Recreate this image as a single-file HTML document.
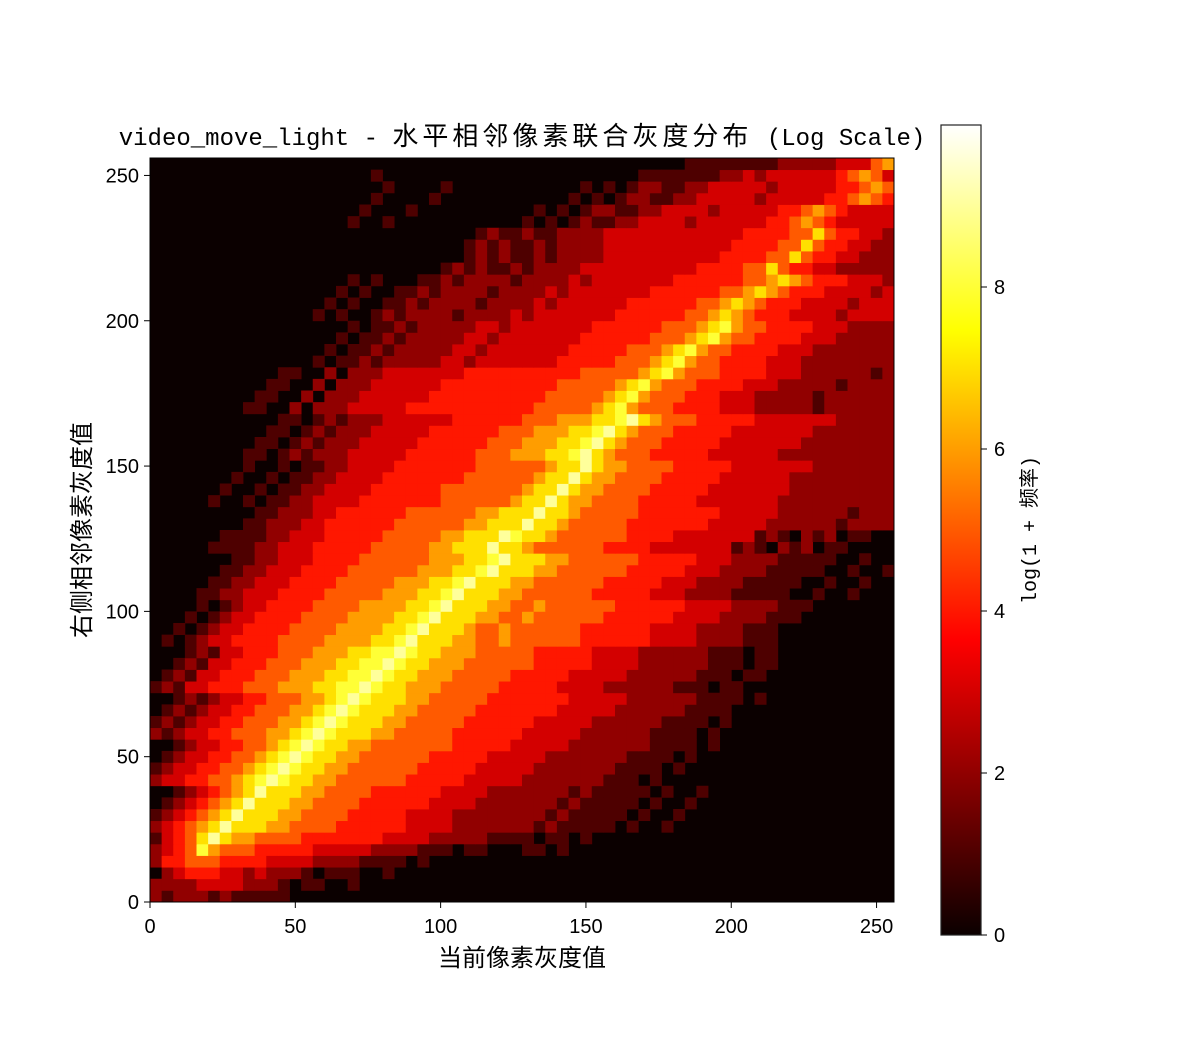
<!DOCTYPE html>
<html><head><meta charset="utf-8"><style>
html,body{margin:0;padding:0;background:#fff;}
svg{display:block;}
text{font-family:"Liberation Sans","Noto Sans CJK SC",sans-serif;fill:#000;}
.mono{font-family:"Liberation Mono","Noto Sans CJK SC",monospace;}
</style></head><body>
<svg id="chart" width="1200" height="1050" viewBox="0 0 1200 1050" xmlns="http://www.w3.org/2000/svg">
<defs>
<linearGradient id="hotgrad" x1="0" y1="1" x2="0" y2="0">
<stop offset="0" stop-color="#0b0000"/><stop offset="0.365" stop-color="#ff0000"/><stop offset="0.746" stop-color="#ffff00"/><stop offset="1" stop-color="#ffffff"/>
</linearGradient>
</defs>
<text x="522" y="145" text-anchor="middle" font-size="24" class="mono">video_move_light - <tspan font-size="26" letter-spacing="4">水平相邻像素联合灰度分布</tspan> (Log Scale)</text>
<g id="cells"></g>
<rect x="150" y="158" width="744" height="744" fill="none" stroke="#000" stroke-width="1"/>
<g id="xticks"></g>
<g id="yticks"></g>
<text x="522" y="966" text-anchor="middle" font-size="24">当前像素灰度值</text>
<text transform="translate(90,530) rotate(-90)" text-anchor="middle" font-size="24">右侧相邻像素灰度值</text>
<rect x="941" y="125" width="40" height="810" fill="url(#hotgrad)" stroke="#222" stroke-width="1.2"/>
<g id="cbticks"></g>
<text transform="translate(1036,530) rotate(-90)" text-anchor="middle" font-size="20" class="mono">log(1 + 频率)</text>
</svg>
<script>
// heatmap values: rows listed from bottom (y bin 0) to top (y bin 63); each char = log(1+count)
const rowsBottomUp = [
"2122212111110000",
"222233332221011001",
"0234443323222101110010",
"244555444433332222111101",
"234586555444443333322221110110001101",
"1345797665555444444433332222211110110100",
"2345679777665555444444333322222221211111010010",
"1234567977766555544444333322222222121111101001",
"01234567977766555544444433332222222121111101001",
"001234567977766555544444433332222222121111101001",
"23344556789877665555554444433333222222211101",
"12334455678987766555555444443333322222221111010",
"0123344556789877665555554444433333222222211110100",
"00123344556789877665555555444443333322222221111010",
"21233445556678987776655555444444333332222221111010",
"12123344555667898777665555544444433333222222111101",
"01212334455566789877766555554444444333332222221111",
"001212334455566789877766555554444444333332222221111010",
"121334445556667788987766655555444443333222222111011",
"0121334445556667788987766655555444443333322222211101100",
"001213344455566677889877666555555444443333222222111011",
"00012133444555666778898776665555544444333322222211101100",
"0101233444455556666778977766556555555444444333322221110",
"00101233444455556666778977765565555554444443333222211100",
"000101233444455556666778977766556555555444444333322221110",
"0000101233444455556666778977766556555555444444333322221110",
"0000112233344445555566677897776655555544444333222211111001001000",
"0000011223334444555556667789777665555554444433322221111100100100",
"0000001122333444455555566677897776655555544444333222211111001001",
"0000000112233344445555556667789777665555554444433322221111100100",
"0000011112233344444555556677797765555554444333333312102120110000",
"0000001111223334444455555667779877655555544443333333121021201100",
"0000000011222334444445555556677797765555544444443333322222212222",
"0000000001122233444444555555667779776555554444444333332222221222",
"0000010010112233334444444555555677976655554444433333332222222222",
"0000001001011223333444444555555567797665555444443333333222222222",
"0000000100101122333344444445555556779766555544444333333222222222",
"0000000010010112233334444444555555677976655554444433333332222222",
"0000000011012122233333444444555666778976555444443333332222222222",
"0000000001101212223333344444455566677897655544444333333322222222",
"0000000000110121222333334444445556667789765554444433333332222222",
"0000000000011012122233333344444455566677897655544444333333322222",
"0000000011002022233333444444444445555567865554444333222221222222",
"0000000001100202223333334444444444555556786555444333222221222222",
"0000000000110020222333333444444444455555678655544443332222212222",
"0000000000011002022233333334444444444555556786555444433322222212",
"0000000000000010112122222332333333344444555678655444433322222222",
"0000000000000001011212222233233333334444455567865544443332222222",
"0000000000000000101121222223323333333444444555678655444433322222",
"0000000000000000010112122222332333333344444455567865544443332222",
"0000000000000010100121222212222323333333444444556765444333323333",
"0000000000000001010011212222122223233333344444455676544433332333",
"0000000000000000101001121222212222323333333444444556765444333323",
"0000000000000000010100011212222122223233333334444445567654443332",
"0000000000000000000000000121211212222333333333344445575443322222",
"0000000000000000000000000001212112122223333333333444455754433222",
"0000000000000000000000000001212112122223333333333344445575443322",
"0000000000000000000000000000121121122223333333333334444557544332",
"0000000000000000010010000000000010101211223333233333344565433333",
"0000000000000000001000100000000001010122112233332333334456543333",
"0000000000000000000100001000000000001010122112233333233333445654",
"0000000000000000000010000100000000000101012211223333323333344565",
"0000000000000000000100000000000000000000001111111223233333345653",
"0000000000000000000000000000000000000000000000111111112222233356"
];
const binEdges = [0, 256];
const nBins = 64;
const xTickValues = [0, 50, 100, 150, 200, 250];
const yTickValues = [0, 50, 100, 150, 200, 250];
const cbTickValues = [0, 2, 4, 6, 8];
const vMax = 10;

const NS = "http://www.w3.org/2000/svg";
const px0 = 150, px1 = 894, py0 = 902, py1 = 158;
function xScale(v){ return px0 + (v - binEdges[0]) / (binEdges[1] - binEdges[0]) * (px1 - px0); }
function yScale(v){ return py0 - (v - binEdges[0]) / (binEdges[1] - binEdges[0]) * (py0 - py1); }
function cbScale(v){ return 935 - v / vMax * 810; }
function hot(v){
  const t = Math.max(0, Math.min(1, v / vMax));
  const r = Math.min(1, 0.0416 + t / 0.365 * (1 - 0.0416));
  const g = Math.max(0, Math.min(1, (t - 0.365) / 0.381));
  const b = Math.max(0, Math.min(1, (t - 0.746) / 0.254));
  return "rgb(" + Math.round(r*255) + "," + Math.round(g*255) + "," + Math.round(b*255) + ")";
}
const binW = (binEdges[1] - binEdges[0]) / nBins;
const cells = document.getElementById("cells");
const bg = document.createElementNS(NS, "rect");
bg.setAttribute("x", px0); bg.setAttribute("y", py1);
bg.setAttribute("width", px1 - px0); bg.setAttribute("height", py0 - py1);
bg.setAttribute("fill", hot(0));


cells.appendChild(bg);
for (let j = 0; j < nBins; j++) {
  const row = (rowsBottomUp[j] || "").padEnd(nBins, "0").slice(0, nBins);
  for (let i = 0; i < nBins; i++) {
    const v = parseInt(row[i], 10);
    if (!v) continue;
    const x0 = xScale(i * binW), x1 = xScale((i + 1) * binW);
    const y0 = yScale((j + 1) * binW), y1 = yScale(j * binW);
    const r = document.createElementNS(NS, "rect");
    r.setAttribute("x", x0.toFixed(2)); r.setAttribute("y", y0.toFixed(2));
    r.setAttribute("width", (x1 - x0 + 0.4).toFixed(2)); r.setAttribute("height", (y1 - y0 + 0.4).toFixed(2));
    r.setAttribute("fill", hot(v));
    
    
    cells.appendChild(r);
  }
}
const xt = document.getElementById("xticks");
xTickValues.forEach(function(v){
  const x = xScale(v);
  const l = document.createElementNS(NS, "line");
  l.setAttribute("x1", x); l.setAttribute("x2", x); l.setAttribute("y1", py0); l.setAttribute("y2", py0 + 6);
  l.setAttribute("stroke", "#000");
  
  
  xt.appendChild(l);
  const t = document.createElementNS(NS, "text");
  t.setAttribute("x", x); t.setAttribute("y", py0 + 31); t.setAttribute("text-anchor", "middle"); t.setAttribute("font-size", "20");
  t.textContent = v;
  
  
  xt.appendChild(t);
});
const yt = document.getElementById("yticks");
yTickValues.forEach(function(v){
  const y = yScale(v);
  const l = document.createElementNS(NS, "line");
  l.setAttribute("x1", px0 - 6); l.setAttribute("x2", px0); l.setAttribute("y1", y); l.setAttribute("y2", y);
  l.setAttribute("stroke", "#000");
  
  
  yt.appendChild(l);
  const t = document.createElementNS(NS, "text");
  t.setAttribute("x", px0 - 11); t.setAttribute("y", y + 7); t.setAttribute("text-anchor", "end"); t.setAttribute("font-size", "20");
  t.textContent = v;
  
  
  yt.appendChild(t);
});
const ct = document.getElementById("cbticks");
cbTickValues.forEach(function(v){
  const y = cbScale(v);
  const l = document.createElementNS(NS, "line");
  l.setAttribute("x1", 981); l.setAttribute("x2", 987); l.setAttribute("y1", y); l.setAttribute("y2", y);
  l.setAttribute("stroke", "#000");
  
  
  ct.appendChild(l);
  const t = document.createElementNS(NS, "text");
  t.setAttribute("x", 994); t.setAttribute("y", y + 7); t.setAttribute("font-size", "20");
  t.textContent = v;
  
  
  ct.appendChild(t);
});
</script>
</body></html>
